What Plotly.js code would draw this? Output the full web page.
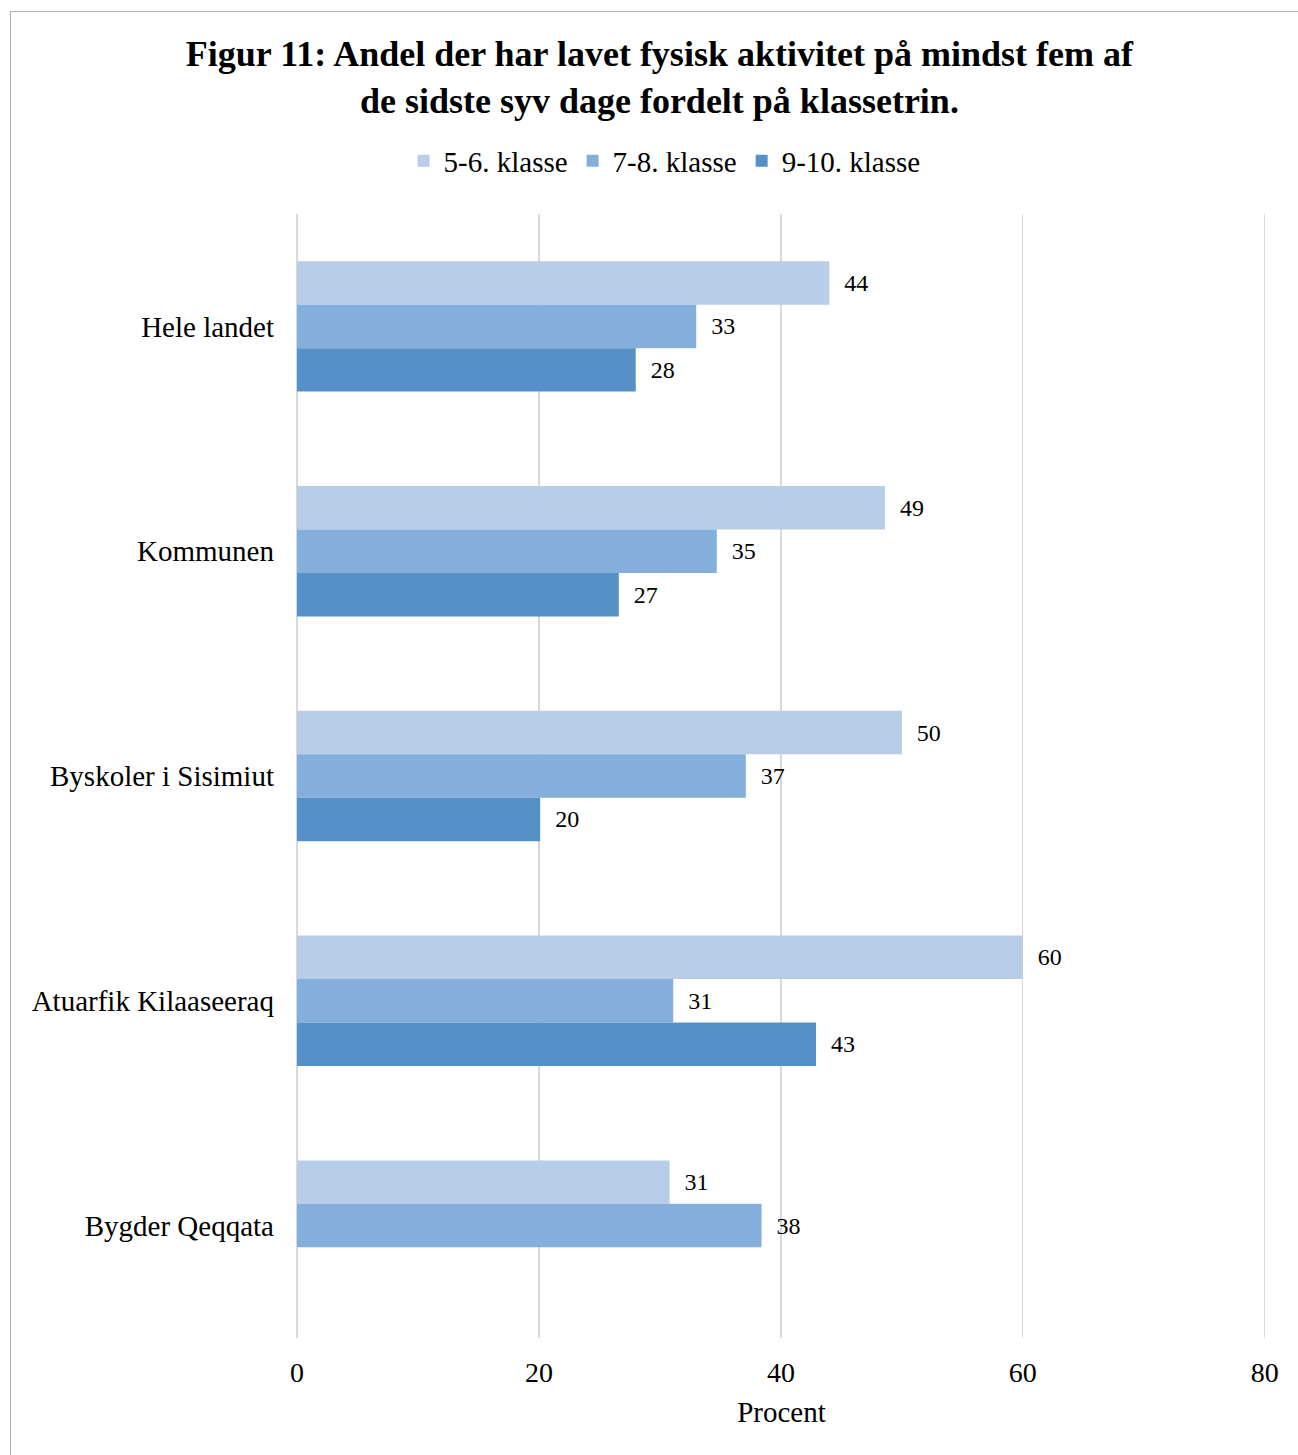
<!DOCTYPE html>
<html>
<head>
<meta charset="utf-8">
<script src="https://cdn.plot.ly/plotly-3.0.1.min.js"></script>
<style>
  html, body { margin: 0; padding: 0; background: #fff; }
  #wrap { position: relative; width: 1298px; height: 1455px; }
  #chart { width: 1298px; height: 1455px; }
  #frame { position: absolute; left: 10px; top: 11px; right: -5px; bottom: -5px;
           border-left: 1.5px solid #b0b0b0; border-top: 1.5px solid #b0b0b0; pointer-events: none; }
</style>
</head>
<body>
<div id="wrap">
  <div id="chart"></div>
  <div id="frame"></div>
</div>
<script>
const categories = ["Hele landet", "Kommunen", "Byskoler i Sisimiut", "Atuarfik Kilaaseeraq", "Bygder Qeqqata"];
const seriesNames = ["5-6. klasse", "7-8. klasse", "9-10. klasse"];
const values56 = [44.0, 48.6, 50.0, 60.0, 30.8];
const values78 = [33.0, 34.7, 37.1, 31.1, 38.4];
const values910 = [28.0, 26.6, 20.1, 42.9, null];
const colors = ["#b8cde8", "#84aedb", "#5591c7"];
const xTicks = [0, 20, 40, 60, 80];

const serif = "Liberation Serif, Times New Roman, serif";
const allValues = [values56, values78, values910];
const pad = "\u00a0\u00a0";

const traces = allValues.map((vals, i) => ({
  type: "bar",
  orientation: "h",
  name: seriesNames[i],
  y: categories,
  x: vals,
  marker: { color: colors[i], line: { width: 0 } },
  text: vals.map(v => v === null ? "" : pad + String(Math.round(v))),
  textposition: "outside",
  texttemplate: "%{text}",
  textfont: { family: serif, size: 24, color: "#000" },
  cliponaxis: false,
  hoverinfo: "x+y"
}));

const layout = {
  width: 1298,
  height: 1455,
  paper_bgcolor: "#fff",
  plot_bgcolor: "#fff",
  margin: { l: 297, r: 32, t: 214, b: 117 },
  barmode: "group",
  bargap: 0.42,
  bargroupgap: 0,
  font: { family: serif, color: "#000" },
  title: {
    text: "<b>Figur 11: Andel der har lavet fysisk aktivitet på mindst fem af<br>de sidste syv dage fordelt på klassetrin.</b>",
    font: { family: serif, size: 36, color: "#000" },
    x: 0.508, xanchor: "center", xref: "container",
    y: 1 - 66 / 1455, yanchor: "top", yref: "container"
  },
  legend: {
    orientation: "h",
    x: 0.512, xanchor: "center", xref: "container",
    y: 1 - 161 / 1455, yanchor: "middle", yref: "container",
    font: { family: serif, size: 29, color: "#000" },
    itemwidth: 30,
    traceorder: "normal"
  },
  xaxis: {
    range: [0, 80.1],
    tickvals: xTicks,
    ticktext: xTicks.map(String),
    showgrid: true,
    gridcolor: "#d9d9d9",
    gridwidth: 1.3,
    zeroline: true,
    zerolinecolor: "#d9d9d9",
    zerolinewidth: 1.3,
    showline: false,
    ticks: "",
    tickfont: { family: serif, size: 28, color: "#000" },
    ticklabelstandoff: 15,
    title: { text: "Procent", font: { family: serif, size: 29, color: "#000" }, standoff: 14 },
    fixedrange: true
  },
  yaxis: {
    type: "category",
    categoryorder: "array",
    categoryarray: categories,
    autorange: "reversed",
    showgrid: false,
    zeroline: false,
    showline: false,
    ticks: "",
    tickfont: { family: serif, size: 29, color: "#000" },
    ticklabelstandoff: 22,
    fixedrange: true
  },
  showlegend: true
};

Plotly.newPlot("chart", traces, layout, { displayModeBar: false, staticPlot: true });
</script>
</body>
</html>
